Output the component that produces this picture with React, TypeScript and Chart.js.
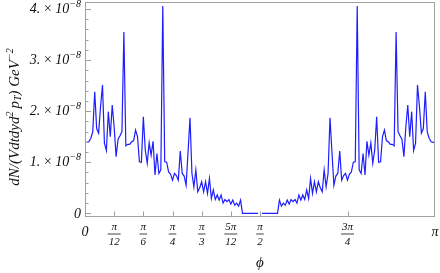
import { useEffect, useRef } from "react";
import { Chart, registerables } from "chart.js";

Chart.register(...registerables);

// Angle grid step (degrees); phi runs 0..180 deg (0..π)
const STEP_DEG = 1;

// dN/(V dt dy d²p_T) in units of 1e-8 GeV^-2, one value per degree; null = missing point at π/2
const DN_E8: (number | null)[] = [
  1.39, 1.39, 1.40, 1.47, 1.60, 2.38, 1.66, 1.57, 2.09, 2.51,
  1.37, 1.23, 1.99, 1.50, 2.12, 1.69, 1.11, 1.45, 1.52, 1.60,
  3.55, 1.32, 1.35, 1.35, 1.40, 1.42, 1.63, 1.50, 1.01, 1.00,
  1.89, 1.24, 0.98, 1.38, 1.14, 1.41, 0.75, 1.17, 0.78, 0.85,
  4.06, 1.01, 1.00, 0.81, 0.77, 0.65, 0.78, 0.74, 0.65, 1.22,
  0.78, 0.73, 0.55, 1.20, 1.87, 0.78, 0.52, 0.85, 0.42, 0.50,
  0.62, 0.42, 0.62, 0.39, 0.68, 0.29, 0.46, 0.27, 0.36, 0.26,
  0.36, 0.20, 0.27, 0.23, 0.27, 0.18, 0.26, 0.16, 0.20, 0.14,
  0.26, 0, 0, 0, 0, 0, 0, 0, 0, 0,
  null,
  0, 0, 0, 0, 0, 0, 0, 0, 0, 0.26,
  0.14, 0.20, 0.16, 0.26, 0.18, 0.27, 0.23, 0.27, 0.20, 0.36,
  0.26, 0.36, 0.27, 0.46, 0.29, 0.68, 0.39, 0.62, 0.42, 0.62,
  0.50, 0.42, 0.85, 0.52, 0.78, 1.87, 1.20, 0.55, 0.73, 0.78,
  1.22, 0.65, 0.74, 0.78, 0.65, 0.77, 0.81, 1.00, 1.01, 4.06,
  0.85, 0.78, 1.17, 0.75, 1.41, 1.14, 1.38, 0.98, 1.24, 1.89,
  1.00, 1.01, 1.50, 1.63, 1.42, 1.40, 1.35, 1.35, 1.32, 3.55,
  1.60, 1.52, 1.45, 1.11, 1.69, 2.12, 1.50, 1.99, 1.23, 1.37,
  2.51, 2.09, 1.57, 1.66, 2.38, 1.60, 1.47, 1.40, 1.39, 1.39,
];
const PHI_DEG = DN_E8.map((_, i) => i * STEP_DEG);

// Axis ticks
const X_TICKS_DEG = [0, 15, 30, 45, 60, 75, 90, 135, 180];
const X_TICK_NUM = ["0", "π", "π", "π", "π", "5π", "π", "3π", "π"];
const X_TICK_DEN = ["", "12", "6", "4", "3", "12", "2", "4", ""];
const Y_TICKS = [0, 1, 2, 3, 4];
const Y_TICK_MANTISSA = ["0", "1.", "2.", "3.", "4."];
const Y_EXPONENT = "−8";
const Y_MINOR_TICKS = [0.2, 0.4, 0.6, 0.8, 1.2, 1.4, 1.6, 1.8, 2.2, 2.4, 2.6, 2.8, 3.2, 3.4, 3.6, 3.8];

const X_MIN = 0;
const X_MAX = 180;
const Y_MIN = -0.072;
const Y_MAX = 4.137;

const FONT_FAMILY = '"Liberation Serif", "DejaVu Serif", serif';
const FRAME_COLOR = "#a0a0a0";
const TEXT_COLOR = "#111111";
const LINE_COLOR = "rgb(30,30,255)";

type Piece = { t: string; size: number; dy: number };

function font(size: number) {
  return `italic ${size}px ${FONT_FAMILY}`;
}

function measure(ctx: CanvasRenderingContext2D, pieces: Piece[]) {
  let w = 0;
  for (const p of pieces) {
    ctx.font = font(p.size);
    w += ctx.measureText(p.t).width;
  }
  return w;
}

function drawPieces(ctx: CanvasRenderingContext2D, pieces: Piece[], x: number, y: number) {
  let cx = x;
  ctx.textAlign = "left";
  ctx.textBaseline = "middle";
  for (const p of pieces) {
    ctx.font = font(p.size);
    ctx.fillText(p.t, cx, y + p.dy);
    cx += ctx.measureText(p.t).width;
  }
}

const framePlugin = {
  id: "mmaFrame",
  afterDraw(chart: any) {
    const ctx: CanvasRenderingContext2D = chart.ctx;
    const { left, right, top, bottom } = chart.chartArea;
    const xs = chart.scales.x;
    const ys = chart.scales.y;
    ctx.save();
    ctx.strokeStyle = FRAME_COLOR;
    ctx.lineWidth = 1;
    ctx.strokeRect(Math.round(left) + 0.5, Math.round(top) + 0.5, Math.round(right - left) - 1, Math.round(bottom - top) - 1);

    // y ticks (inward)
    ctx.beginPath();
    for (const v of Y_TICKS) {
      const py = Math.round(ys.getPixelForValue(v)) + 0.5;
      ctx.moveTo(left, py);
      ctx.lineTo(left + 6, py);
    }
    for (const v of Y_MINOR_TICKS) {
      const py = Math.round(ys.getPixelForValue(v)) + 0.5;
      ctx.moveTo(left, py);
      ctx.lineTo(left + 3.5, py);
    }
    // x ticks (inward)
    for (const d of X_TICKS_DEG) {
      if (d === X_MIN || d === X_MAX) continue;
      const px = Math.round(xs.getPixelForValue(d)) + 0.5;
      ctx.moveTo(px, bottom);
      ctx.lineTo(px, bottom - 5.5);
    }
    ctx.stroke();

    ctx.fillStyle = TEXT_COLOR;
    // y tick labels
    Y_TICKS.forEach((v, i) => {
      const py = ys.getPixelForValue(v);
      const pieces: Piece[] =
        v === 0
          ? [{ t: Y_TICK_MANTISSA[i], size: 14, dy: 0 }]
          : [
              { t: Y_TICK_MANTISSA[i], size: 14, dy: 0 },
              { t: "\u2009×\u2009", size: 14, dy: 0 },
              { t: "10", size: 14, dy: 0 },
              { t: Y_EXPONENT, size: 10, dy: -5.5 },
            ];
      const w = measure(ctx, pieces);
      drawPieces(ctx, pieces, left - 4 - w, py + 0.5);
    });

    // x tick labels
    X_TICKS_DEG.forEach((d, i) => {
      const px = xs.getPixelForValue(d);
      if (!X_TICK_DEN[i]) {
        ctx.font = font(14);
        ctx.textAlign = "center";
        ctx.textBaseline = "middle";
        ctx.fillText(X_TICK_NUM[i], px, 232);
      } else {
        ctx.font = font(11);
        ctx.textAlign = "center";
        ctx.textBaseline = "middle";
        ctx.fillText(X_TICK_NUM[i], px, 227);
        ctx.fillText(X_TICK_DEN[i], px, 242.5);
        const w = Math.max(ctx.measureText(X_TICK_NUM[i]).width, ctx.measureText(X_TICK_DEN[i]).width) + 2;
        ctx.beginPath();
        ctx.strokeStyle = TEXT_COLOR;
        ctx.lineWidth = 0.8;
        ctx.moveTo(px - w / 2, 234);
        ctx.lineTo(px + w / 2, 234);
        ctx.stroke();
      }
    });

    // x axis title
    ctx.font = font(15);
    ctx.textAlign = "center";
    ctx.textBaseline = "middle";
    ctx.fillText("ϕ", (left + right) / 2, 263);

    // y axis title (rotated)
    const title: Piece[] = [
      { t: "dN/(Vdtdyd", size: 15, dy: 0 },
      { t: "2", size: 10, dy: -5 },
      { t: "\u2009p", size: 15, dy: 0 },
      { t: "T", size: 10, dy: 3.5 },
      { t: ") GeV", size: 15, dy: 0 },
      { t: "−2", size: 10, dy: -5 },
    ];
    const tw = measure(ctx, title);
    ctx.translate(15, 117);
    ctx.rotate(-Math.PI / 2);
    drawPieces(ctx, title, -tw / 2, 0);
    ctx.restore();
  },
};

export default function App() {
  const ref = useRef<HTMLCanvasElement | null>(null);
  useEffect(() => {
    if (!ref.current) return;
    const chart = new Chart(ref.current, {
      type: "line",
      data: {
        datasets: [
          {
            data: PHI_DEG.map((x, i) => ({ x, y: DN_E8[i] as any })),
            borderColor: LINE_COLOR,
            borderWidth: 1.2,
            pointRadius: 0,
            tension: 0,
            fill: false,
            spanGaps: false,
          },
        ],
      },
      options: {
        animation: false,
        responsive: false,
        events: [],
        layout: { padding: { top: 2, right: 5, left: 0, bottom: 0 } },
        plugins: { legend: { display: false }, tooltip: { enabled: false } },
        scales: {
          x: {
            type: "linear",
            min: X_MIN,
            max: X_MAX,
            grid: { display: false },
            border: { display: false },
            ticks: { display: false },
            afterFit: (s: any) => {
              s.height = 56;
            },
          },
          y: {
            type: "linear",
            min: Y_MIN,
            max: Y_MAX,
            grid: { display: false },
            border: { display: false },
            ticks: { display: false },
            afterFit: (s: any) => {
              s.width = 85;
            },
          },
        },
      },
      plugins: [framePlugin],
    });
    return () => chart.destroy();
  }, []);
  return (
    <div style={{ position: "absolute", left: 0, top: 0, width: 440, height: 273, background: "#fff" }}>
      <canvas ref={ref} width={440} height={273} style={{ display: "block" }} />
    </div>
  );
}
